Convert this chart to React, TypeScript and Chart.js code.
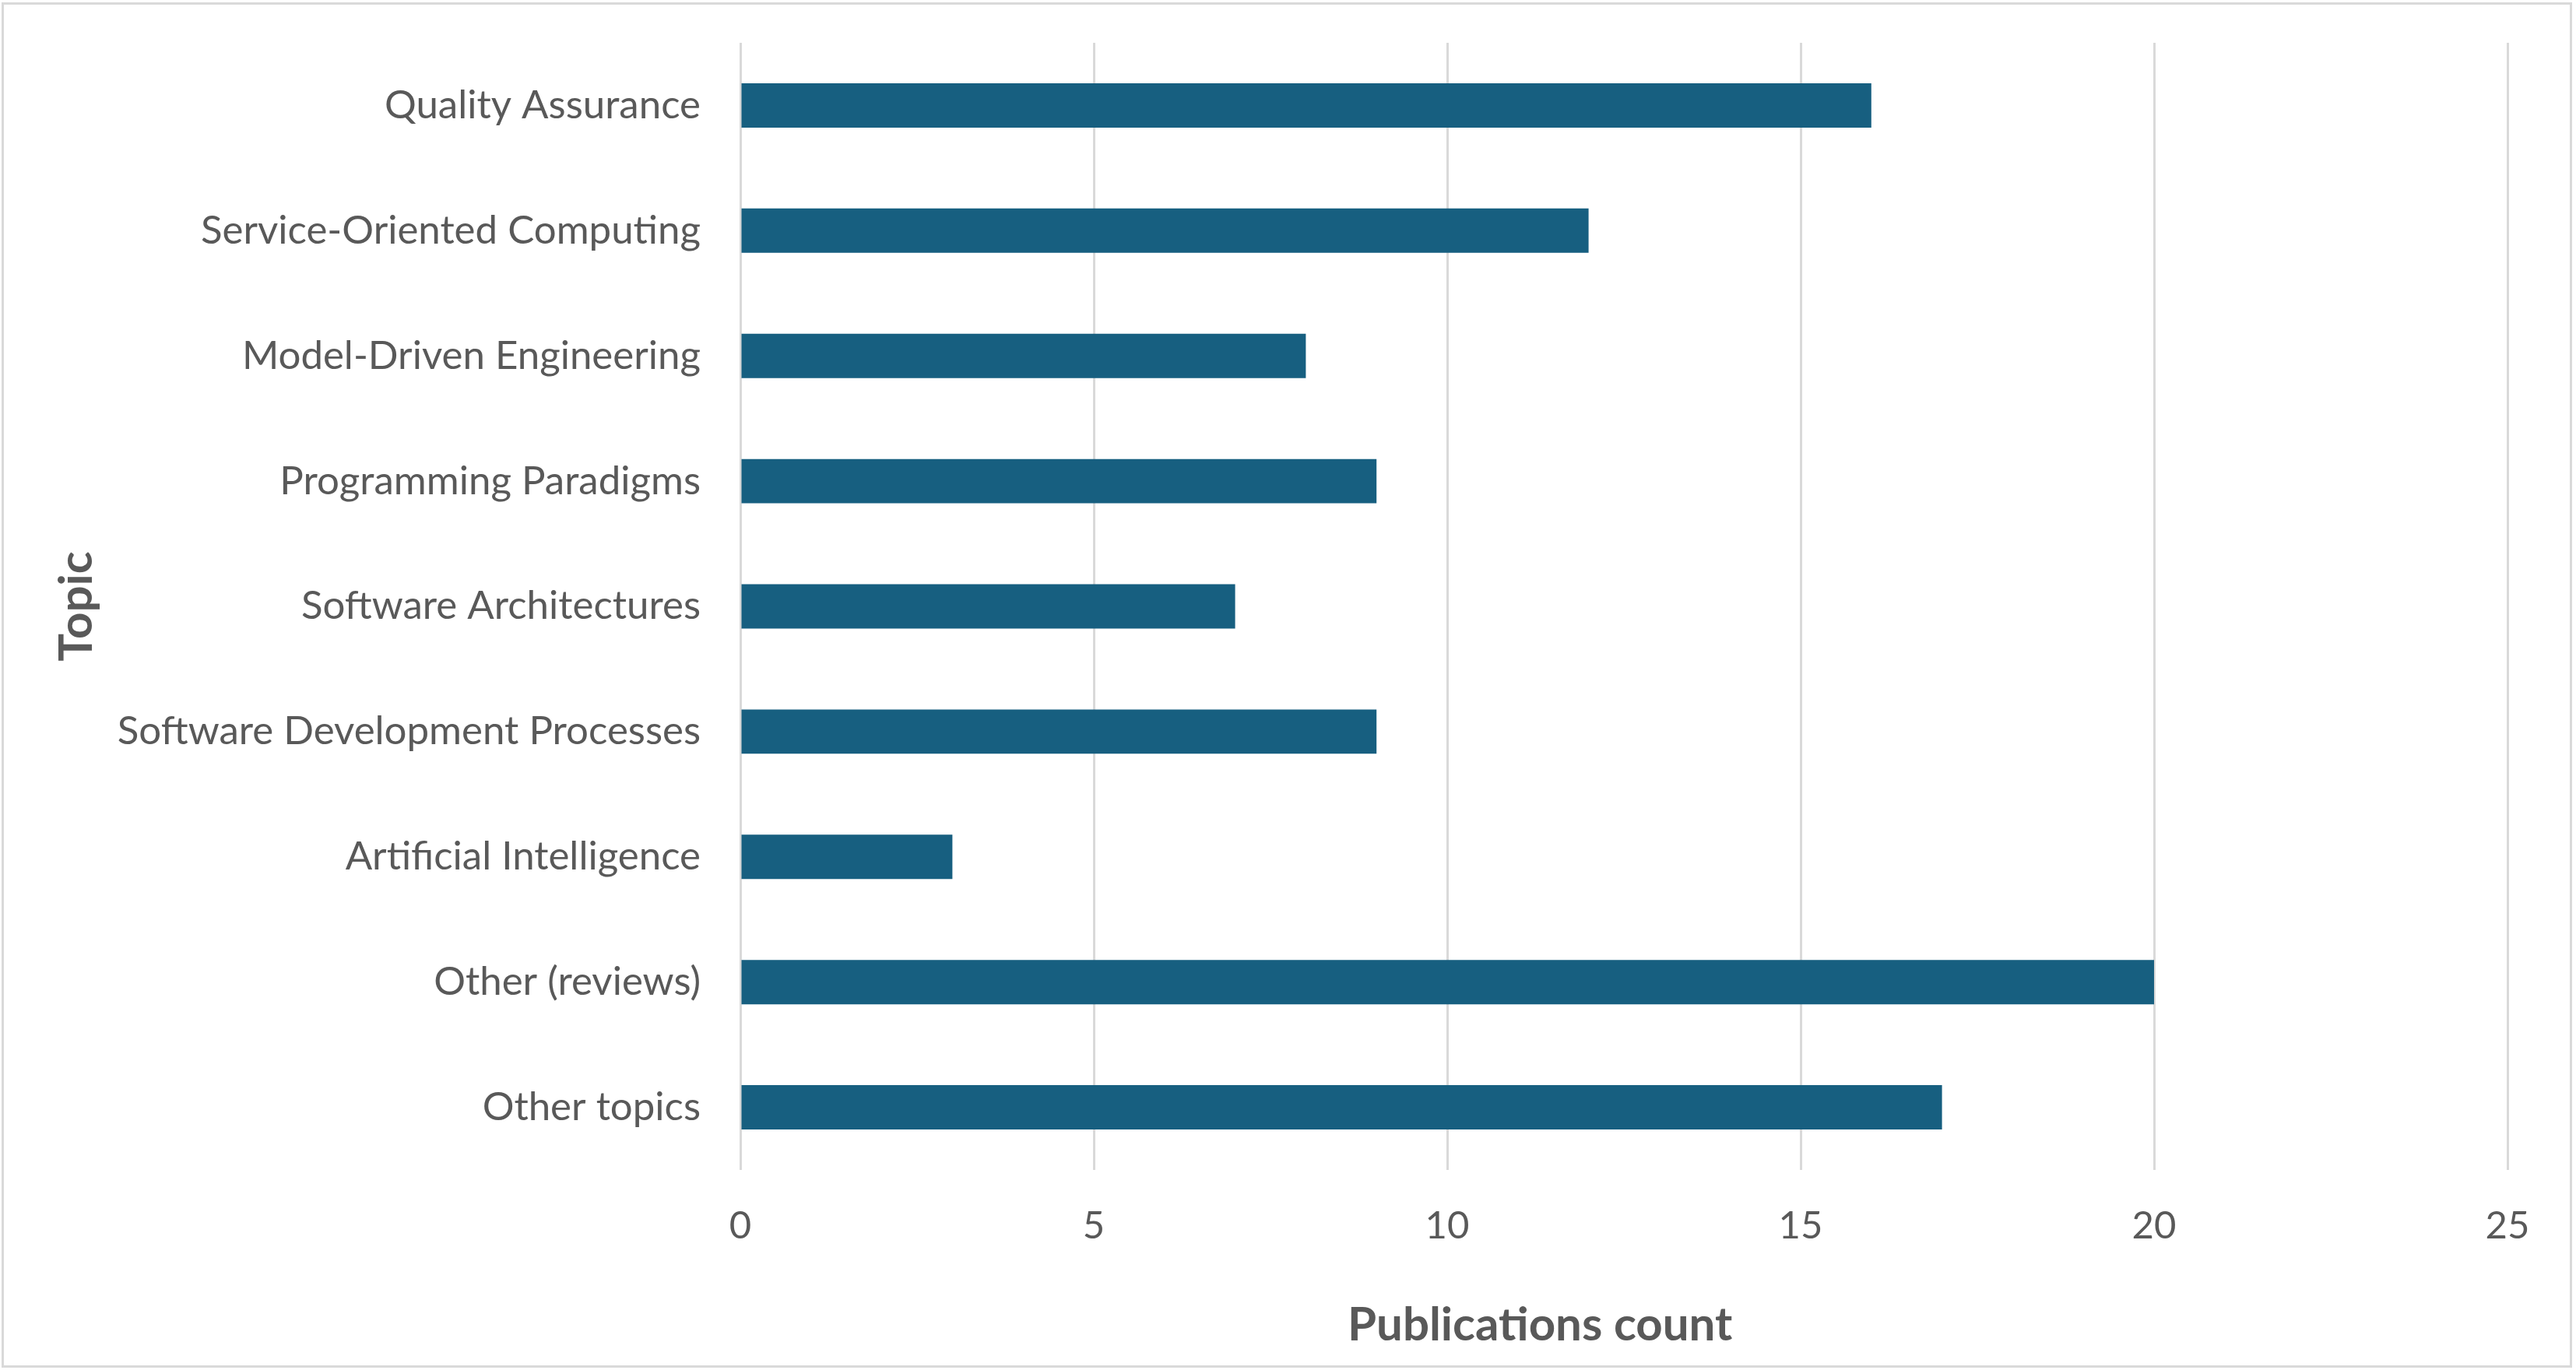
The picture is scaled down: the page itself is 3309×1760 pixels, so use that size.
import React, { useEffect, useRef } from "react";
import { Chart, registerables } from "chart.js";

Chart.register(...registerables);

const categories = [
  "Quality Assurance",
  "Service-Oriented Computing",
  "Model-Driven Engineering",
  "Programming Paradigms",
  "Software Architectures",
  "Software Development Processes",
  "Artificial Intelligence",
  "Other (reviews)",
  "Other topics",
];
const counts = [16, 12, 8, 9, 7, 9, 3, 20, 17];
const xMin = 0;
const xMax = 25;
const xStep = 5;
const xTitle = "Publications count";
const yTitle = "Topic";

const W = 3309;
const H = 1760;
const TEXT = "#595959";
const GRID = "#d9d9d9";
const BAR = "#175f80";
const FONT = "Lato, 'Open Sans', sans-serif";

const decor = {
  id: "decor",
  afterDraw(chart: any) {
    const { ctx, chartArea } = chart;
    ctx.save();
    ctx.strokeStyle = GRID;
    ctx.lineWidth = 3;
    ctx.strokeRect(3.5, 4.5, chart.width - 10, chart.height - 9);
    ctx.fillStyle = TEXT;
    ctx.font = `bold 60px ${FONT}`;
    ctx.textAlign = "center";
    ctx.textBaseline = "alphabetic";
    const cx = chartArea.left + (chartArea.right - chartArea.left) * 0.4525;
    ctx.fillText(xTitle, cx, chartArea.bottom + 219);
    ctx.restore();
  },
};

export default function App() {
  const ref = useRef<HTMLCanvasElement | null>(null);
  useEffect(() => {
    document.body.style.margin = "0";
    const canvas = ref.current!;
    const chart = new Chart(canvas, {
      type: "bar",
      data: {
        labels: categories,
        datasets: [
          {
            data: counts,
            backgroundColor: BAR,
            borderWidth: 0,
            categoryPercentage: 1,
            barPercentage: 0.354,
          },
        ],
      },
      options: {
        indexAxis: "y",
        animation: false,
        responsive: false,
        devicePixelRatio: 1,
        layout: { padding: { left: 0, top: 55, right: 88, bottom: 0 } },
        plugins: { legend: { display: false }, tooltip: { enabled: false }, title: { display: false } },
        scales: {
          x: {
            type: "linear",
            min: xMin,
            max: xMax,
            ticks: { stepSize: xStep, color: TEXT, font: { family: FONT, size: 49 }, padding: 43 },
            grid: { color: GRID, lineWidth: 3, drawTicks: false },
            border: { display: false },
            afterFit: (s: any) => {
              s.height = 257;
              s.paddingLeft = 0;
              s.paddingRight = 0;
            },
          },
          y: {
            ticks: { color: TEXT, font: { family: FONT, size: 51 }, padding: 51 },
            grid: { display: false, drawTicks: false },
            border: { display: false },
            title: {
              display: true,
              text: yTitle,
              color: TEXT,
              font: { family: FONT, size: 60, weight: "bold" },
              padding: { top: 63, bottom: 0 },
            },
            afterFit: (s: any) => {
              s.width = 951;
              s.paddingTop = 0;
              s.paddingBottom = 0;
            },
          },
        },
      },
      plugins: [decor],
    });
    return () => chart.destroy();
  }, []);
  return (
    <div style={{ width: W, height: H, background: "#fff" }}>
      <canvas ref={ref} width={W} height={H} style={{ display: "block" }} />
    </div>
  );
}
